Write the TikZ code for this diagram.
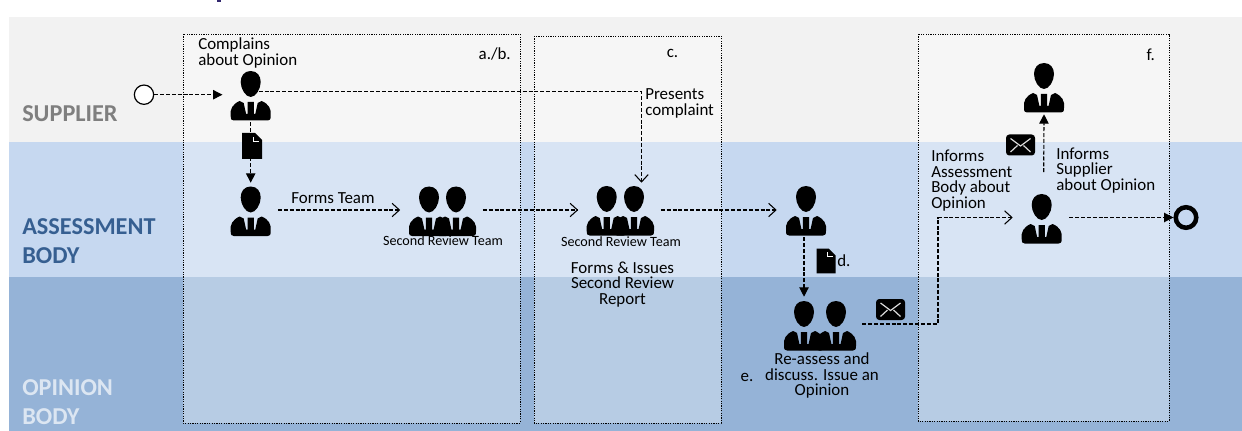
\documentclass[tikz,border=0pt]{standalone}
\usepackage{fontspec}
\setmainfont{Carlito}
\usetikzlibrary{arrows.meta}
\newcommand{\lbl}{\fontsize{12.7pt}{11.6pt}\selectfont}
\newcommand{\smalllbl}{\fontsize{10.6pt}{10pt}\selectfont}
\newcommand{\bandlbl}{\fontsize{18.2pt}{21.8pt}\selectfont\bfseries}
\definecolor{bandA}{RGB}{242,242,242}
\definecolor{bandB}{RGB}{198,216,240}
\definecolor{bandC}{RGB}{149,179,215}
\definecolor{lblA}{RGB}{127,127,127}
\definecolor{lblB}{RGB}{54,95,145}
\definecolor{lblC}{RGB}{220,230,242}
\definecolor{titleink}{RGB}{50,40,110}
\tikzset{
  band/.style={fill=#1,draw=none},
  stagebox/.style={fill=white,fill opacity=.33,draw=none},
  stageline/.style={draw=black,line width=.6pt,dash pattern=on .9pt off .9pt},
  anchorbox/.style={draw=none,fill=none,inner sep=0,minimum width=#1*.75pt,minimum height=40.5pt},
  flow/.style={draw=black,line width=.85pt,dash pattern=on 3pt off 1.4pt},
  openflow/.style={flow,-{Straight Barb[length=5.5pt,width=10pt,line width=.8pt]}},
  solidtip/.style={flow,-{Triangle[length=7pt,width=7pt]}},
  txt/.style={inner sep=0,text=black,font=\lbl,align=#1},
  txt/.default=left,
  bandtxt/.style={inner sep=0,anchor=west,align=left,font=\bandlbl,text=#1},
  person/.pic={
    \fill[black] (0,-13) .. controls (6.5,-13) and (10,-8) .. (10,-2)
      .. controls (10,5) and (5,13) .. (0,13)
      .. controls (-5,13) and (-10,5) .. (-10,-2)
      .. controls (-10,-8) and (-6.5,-13) .. (0,-13) -- cycle;
    \fill[black] (-20,32) .. controls (-21,25) and (-18,20) .. (-11,17) -- (-7,19)
      -- (-4.6,30) -- (-3.2,30) -- (-3.2,18) -- (3.2,18) -- (3.2,30) -- (4.6,30) -- (7,19) -- (11,17)
      .. controls (18,20) and (21,25) .. (20,32)
      .. controls (20,35.5) and (19,36.5) .. (17,36.5) -- (-17,36.5)
      .. controls (-19,36.5) and (-20,35.5) .. (-20,32) -- cycle;
  },
  docicon/.pic={
    \fill[black] (-10,-13) -- (3,-13) -- (10,-6) -- (10,13) -- (-10,13) -- cycle;
    \draw[white,line width=.8pt] (1.5,-9) -- (1.5,-4.5) -- (7,-4.5);
  },
  envelope/.pic={
    \fill[black,rounded corners=2.5pt] (-14.5,-10.5) rectangle (14.5,10.5);
    \draw[white!85!black,line width=.9pt] (-10,-6.5) -- (0,1) -- (10,-6.5);
    \draw[white!85!black,line width=.9pt] (-10,7) -- (-3,0.5) (10,7) -- (3,0.5);
  },
}
\begin{document}
\begin{tikzpicture}[x=.75pt,y=-.75pt]
\useasboundingbox (0,0) rectangle (1242,431);
% title remnant
\fill[titleink] (217,0) rectangle (221,1.8);
% bands
\path[band=bandA] (9,17) rectangle (1242,142);
\path[band=bandB] (9,142) rectangle (1242,277);
\path[band=bandC] (9,277) rectangle (1242,431);
% stage boxes
\path[stagebox] (183,34) rectangle (520,423);
\path[stagebox] (534,36) rectangle (721,423);
\path[stagebox] (918,34) rectangle (1169,421);
\path[stageline] (183,34) rectangle (520,423);
\path[stageline] (534,36) rectangle (721,423);
\path[stageline] (918,34) rectangle (1169,421);
% band labels
\node[bandtxt=lblA] (lsup) at (22,114) {SUPPLIER};
\node[bandtxt=lblB] (lass) at (22,241.5) {ASSESSMENT\\BODY};
\node[bandtxt=lblC] (lopi) at (22,402.5) {OPINION\\BODY};
% people
\pic at (250.7,84) {person};
\pic at (250.7,199.5) {person};
\pic at (429,199.5) {person};
\pic at (456,199.5) {person};
\pic at (606.7,199) {person};
\pic at (634,199) {person};
\pic at (806,199) {person};
\pic at (804,314) {person};
\pic at (836,314) {person};
\pic at (1044,76) {person};
\pic at (1041.7,207) {person};
% connection anchors
\node[anchorbox=56] (p1) at (250.7,95) {};
\node[anchorbox=54] (p2) at (250.7,210) {};
\node[anchorbox=82] (t1) at (441.5,210) {};
\node[anchorbox=82] (t2) at (619.5,210) {};
\node[anchorbox=58] (p3) at (806,210) {};
\node[anchorbox=84] (t3) at (820,324) {};
\node[anchorbox=56] (pf1) at (1044,87) {};
\node[anchorbox=56] (pf2) at (1041,217.5) {};
\node[circle,draw=black,fill=white,line width=.9pt,minimum size=14.5pt,inner sep=0] (start) at (144,94.7) {};
\node[circle,draw=black,fill=none,line width=3.4pt,minimum size=15.4pt,inner sep=0] (end) at (1186,217.5) {};
\coordinate (bend) at (938,217.5);
\coordinate (p3out) at ([xshift=-1.5]p3.south);
% connectors
\draw[solidtip] (start) -- (p1.west |- start);
\draw[solidtip] (p1.south) -- (p2.north);
\draw[openflow] (p2.east) -- (t1.west);
\draw[openflow] (t1.east) -- (t2.west);
\draw[openflow] (t2.east) -- (p3.west);
\draw[openflow] ([shift={(8,-3.3)}]p1.center) -| ([xshift=16.5]t2.north);
\draw[solidtip] (p3out) -- (t3.north -| p3out);
\draw[openflow] (t3.east) -| (bend) |- (pf2.west);
\draw[solidtip] (pf2.east) -- (end.west);
\draw[solidtip] ([shift={(2.7,-18)}]pf2.north) -- (pf1.south);
% icons on connectors
\pic at (252,146) {docicon};
\pic[scale=.95] at (826,261) {docicon};
\pic at (890.5,309.5) {envelope};
\pic at (1020.5,145) {envelope};
% texts
\node[txt,anchor=west] (tcomp) at (198,53) {Complains\\about Opinion};
\node[txt,anchor=east] (tab) at (511,54) {a./b.};
\node[txt] (tc) at (672.5,53) {c.};
\node[txt,anchor=west] (tpres) at (645,103.5) {Presents\\complaint};
\node[txt] (tforms) at (333,198) {Forms Team};
\node[inner sep=0,font=\smalllbl] (tsr1) at (443,240.5) {Second Review Team};
\node[inner sep=0,font=\smalllbl] (tsr2) at (621,241.5) {Second Review Team};
\node[txt=center] (tissue) at (622.5,284.5) {Forms \& Issues\\Second Review\\Report};
\node[txt,anchor=west] (td) at (837,261) {d.};
\node[txt] (te) at (747,377) {e.};
\node[txt=center] (treas) at (822,375.5) {Re-assess and\\discuss. Issue an\\Opinion};
\node[txt,anchor=west] (tinfa) at (931,180.5) {Informs\\Assessment\\Body about\\Opinion};
\node[txt,anchor=west] (tinfs) at (1056,170.5) {Informs\\Supplier\\about Opinion};
\node[txt] (tf) at (1150.7,55) {f.};
\end{tikzpicture}
\end{document}
